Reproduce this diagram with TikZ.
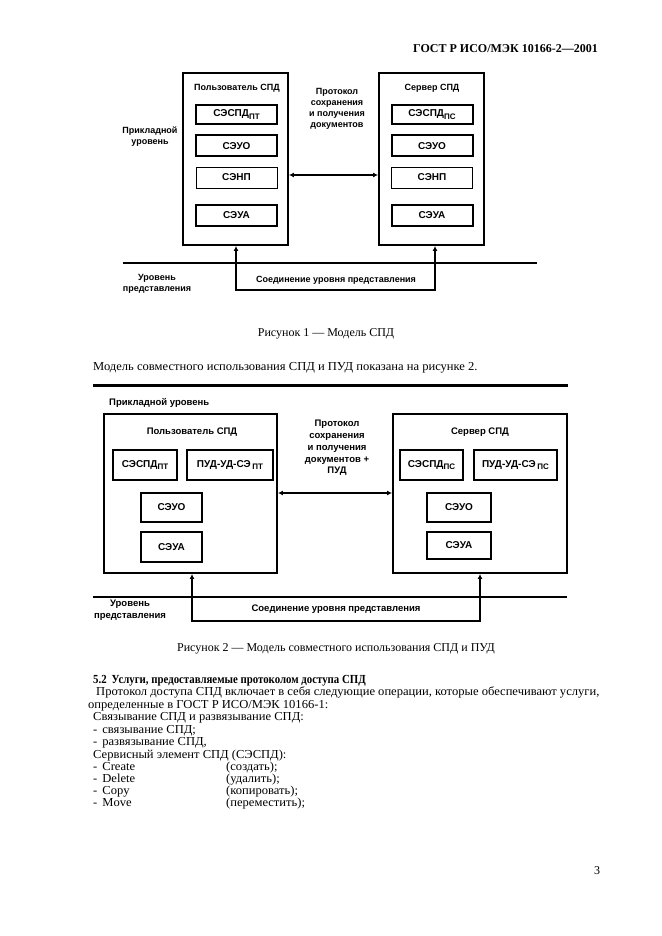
\documentclass[tikz,border=0pt]{standalone}
\usepackage{fontspec}
\setmainfont{Liberation Serif}
\setsansfont{Liberation Sans}
\usetikzlibrary{arrows.meta}
\newcommand{\lowidx}[1]{\raisebox{-0.55ex}{\fontsize{8}{8}\selectfont #1}}

\begin{document}
\begin{tikzpicture}[x=1pt,y=-1pt,
		block_style/.style={draw=black,line width=1.9pt,inner sep=0pt},
		elem_style/.style={draw=black,line width=2pt,inner sep=0pt,minimum width=81pt,minimum height=21pt,font=\sffamily\bfseries\fontsize{10}{11}\selectfont},
		elem_thin/.style={elem_style,line width=0.9pt},
		elem_big/.style={elem_style,line width=2.2pt,minimum height=30pt},
		label_style/.style={font=\sffamily\bfseries\fontsize{9}{11}\selectfont,align=center,inner sep=0pt},
		label_big/.style={font=\sffamily\bfseries\fontsize{9.5}{11.7}\selectfont,align=center,inner sep=0pt},
		text_style/.style={font=\fontsize{12.2}{13.7}\selectfont\addfontfeature{FakeStretch=1.03},inner sep=0pt,anchor=base west},
		cap_style/.style={font=\fontsize{12}{13.7}\selectfont,inner sep=0pt,anchor=base},
		level_style/.style={draw=black,line width=1.6pt},
		link_style/.style={draw=black,line width=2.2pt,{Latex[length=5pt,width=5pt]}-{Latex[length=5pt,width=5pt]}}]

		\useasboundingbox[fill=white] (0,0) rectangle (661,936);

		% header
		\node[font=\bfseries\fontsize{12}{14}\selectfont,inner sep=0pt,anchor=base east] (hdr) at (598,53) {ГОСТ Р ИСО/МЭК 10166-2—2001};

		% figure 1
		\node[block_style,minimum width=105pt,minimum height=172pt] (u1) at (235.5,159) {};
		\node[block_style,minimum width=105pt,minimum height=172pt] (s1) at (431.5,159) {};
		\node[label_style] (u1t) at (237,88) {Пользователь СПД};
		\node[label_style] (s1t) at (432,88) {Сервер СПД};

		\node[elem_style,minimum height=19pt] (u1a) at (236.5,114.5) {СЭСПД\lowidx{ПТ}};
		\node[elem_style] (u1b) at (236.5,146) {СЭУО};
		\node[elem_thin] (u1c) at (236.5,177.5) {СЭНП};
		\node[elem_style] (u1d) at (236.5,215.5) {СЭУА};

		\node[elem_style,minimum height=19pt] (s1a) at (432,114.5) {СЭСПД\lowidx{ПС}};
		\node[elem_style] (s1b) at (432,146) {СЭУО};
		\node[elem_thin] (s1c) at (432,177.5) {СЭНП};
		\node[elem_style] (s1d) at (432,215.5) {СЭУА};

		\node[label_style] (p1) at (337,108.5) {Протокол\\сохранения\\и получения\\документов};
		\node[label_style] (a1) at (150,137) {Прикладной\\уровень};
		\node[label_style] (r1) at (157,283.5) {Уровень\\представления};
		\node[label_style] (c1) at (336,280) {Соединение уровня представления};

		\coordinate (h1a) at (123,263);
		\coordinate (h1b) at (537,263);
		\draw[level_style] (h1a) -- (h1b);
		\draw[link_style] (u1.east |- 0,175) -- (s1.west |- 0,175);
		\draw[link_style] (u1.south -| 236,0) -- (236,290) -- (435,290) -- (s1.south -| 435,0);

		\node[cap_style] (cap1) at (326,336) {Рисунок 1 — Модель СПД};
		\node[text_style] (t0) at (93,370) {Модель совместного использования СПД и ПУД показана на рисунке 2.};

		% figure 2
		\coordinate (top2a) at (93,385);
		\coordinate (top2b) at (568,385);
		\draw[draw=black,line width=3pt] (top2a) -- (top2b);
		\node[label_big,anchor=west] (a2) at (109,403) {Прикладной уровень};

		\node[block_style,minimum width=173pt,minimum height=159pt] (u2) at (190.5,493.5) {};
		\node[block_style,minimum width=174pt,minimum height=159pt] (s2) at (480,493.5) {};
		\node[label_big] (u2t) at (192,432) {Пользователь СПД};
		\node[label_big] (s2t) at (480,432) {Сервер СПД};

		\node[elem_big,minimum width=64pt] (u2a) at (145,465) {СЭСПД\lowidx{ПТ}};
		\node[elem_big,minimum width=86pt] (u2b) at (230,465) {ПУД-УД-СЭ\,\lowidx{ПТ}};
		\node[elem_big,minimum width=61pt,minimum height=29pt] (u2c) at (171.5,507.5) {СЭУО};
		\node[elem_big,minimum width=61pt] (u2d) at (171.5,547) {СЭУА};

		\node[elem_big,minimum width=63pt] (s2a) at (431.5,465) {СЭСПД\lowidx{ПС}};
		\node[elem_big,minimum width=83pt] (s2b) at (515.5,465) {ПУД-УД-СЭ\,\lowidx{ПС}};
		\node[elem_big,minimum width=64pt,minimum height=29pt] (s2c) at (459,507.5) {СЭУО};
		\node[elem_big,minimum width=64pt,minimum height=27pt] (s2d) at (459,545.5) {СЭУА};

		\node[label_big] (p2) at (337,448) {Протокол\\сохранения\\и получения\\документов +\\ПУД};
		\node[label_big] (r2) at (130,610.5) {Уровень\\представления};
		\node[label_big] (c2) at (336,609) {Соединение уровня представления};

		\coordinate (h2a) at (93,597);
		\coordinate (h2b) at (567,597);
		\draw[level_style] (h2a) -- (h2b);
		\draw[link_style] (u2.east |- 0,493) -- (s2.west |- 0,493);
		\draw[link_style] (u2.south -| 192,0) -- (192,621) -- (480,621) -- (s2.south);

		\node[cap_style] (cap2) at (336,651) {Рисунок 2 — Модель совместного использования СПД и ПУД};

		% text
		\node[text_style,font=\bfseries\fontsize{12.3}{13.7}\selectfont\addfontfeature{FakeStretch=0.88}] (t1) at (93,683) {5.2\hspace{5pt}Услуги, предоставляемые протоколом доступа СПД};
		\node[text_style] (t2) at (96,695) {Протокол доступа СПД включает в себя следующие операции, которые обеспечивают услуги,};
		\node[text_style] (t3) at (88,708) {определенные в ГОСТ Р ИСО/МЭК 10166-1:};
		\node[text_style] (t4) at (93,720) {Связывание СПД и развязывание СПД:};
		\node[text_style] (t5) at (93,733) {-\hspace{5pt}связывание СПД;};
		\node[text_style] (t6) at (93,745) {-\hspace{5pt}развязывание СПД,};
		\node[text_style] (t7) at (93,758) {Сервисный элемент СПД (СЭСПД):};
		\node[text_style] (t8) at (93,770) {-\hspace{5pt}Create};
		\node[text_style] (t8r) at (226,770) {(создать);};
		\node[text_style] (t9) at (93,782) {-\hspace{5pt}Delete};
		\node[text_style] (t9r) at (226,782) {(удалить);};
		\node[text_style] (t10) at (93,794) {-\hspace{5pt}Copy};
		\node[text_style] (t10r) at (226,794) {(копировать);};
		\node[text_style] (t11) at (93,806) {-\hspace{5pt}Move};
		\node[text_style] (t11r) at (226,806) {(переместить);};

		\node[cap_style] (pg) at (597,874) {3};

		\end{tikzpicture}
\end{document}
